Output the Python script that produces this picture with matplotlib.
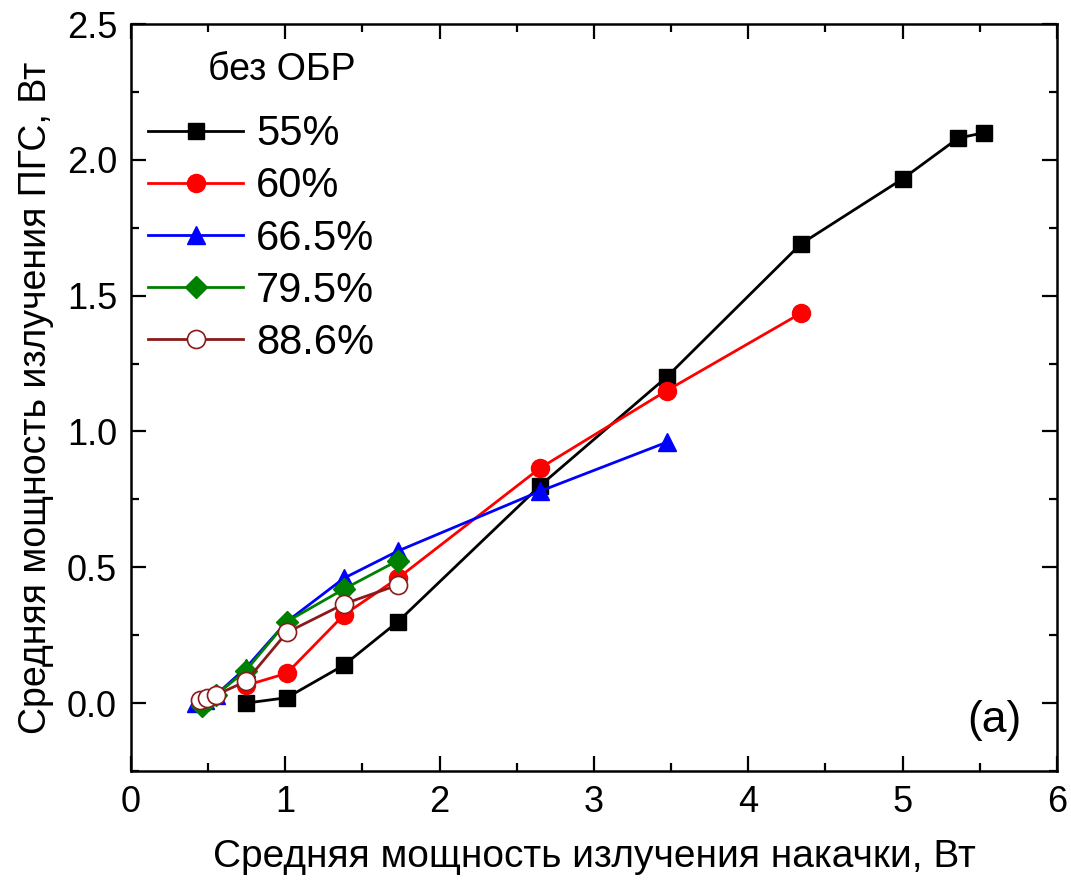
import matplotlib
matplotlib.use("Agg")
import matplotlib.pyplot as plt
from matplotlib.ticker import MultipleLocator

plt.rcParams['font.family'] = ['Liberation Sans', 'DejaVu Sans']

# pump power (W) vs. OPO output power (W), no feedback
x55 = [0.745, 1.01, 1.38, 1.73, 2.65, 3.47, 4.34, 5.00, 5.36, 5.53]
y55 = [0.00, 0.02, 0.14, 0.30, 0.80, 1.20, 1.69, 1.93, 2.08, 2.10]

x60 = [0.745, 1.01, 1.38, 1.73, 2.65, 3.47, 4.34]
y60 = [0.065, 0.11, 0.325, 0.46, 0.865, 1.15, 1.435]

x665 = [0.42, 0.48, 0.55, 0.745, 1.01, 1.38, 1.73, 2.65, 3.47]
y665 = [0.00, 0.01, 0.03, 0.13, 0.30, 0.46, 0.56, 0.78, 0.96]

x795 = [0.46, 0.50, 0.55, 0.745, 1.01, 1.38, 1.73]
y795 = [-0.01, 0.01, 0.03, 0.12, 0.30, 0.42, 0.525]

x886 = [0.45, 0.49, 0.55, 0.745, 1.01, 1.38, 1.73]
y886 = [0.01, 0.02, 0.03, 0.08, 0.26, 0.365, 0.435]

fig = plt.figure(figsize=(10.71, 8.89), dpi=100)
ax = fig.add_axes([0.1223, 0.1327, 0.8646, 0.8403])

lw = 2.0
ax.plot(x55, y55, color='black', marker='s', ms=12, lw=lw, label='55%')
ax.plot(x60, y60, color='red', marker='o', ms=13, lw=lw, label='60%')
ax.plot(x665, y665, color='blue', marker='^', ms=13.5, lw=lw, label='66.5%')
ax.plot(x795, y795, color='green', marker='D', ms=11, lw=lw, label='79.5%')
ax.plot(x886, y886, color='#8b1a1a', marker='o', ms=13, lw=lw,
        mfc='white', mec='#8b1a1a', mew=1.2, label='88.6%')

ax.set_xlim(0, 6)
ax.set_ylim(-0.25, 2.5)
ax.xaxis.set_major_locator(MultipleLocator(1))
ax.xaxis.set_minor_locator(MultipleLocator(0.5))
ax.yaxis.set_major_locator(MultipleLocator(0.5))
ax.yaxis.set_minor_locator(MultipleLocator(0.25))
ax.yaxis.set_major_formatter(matplotlib.ticker.FormatStrFormatter('%.1f'))
ax.tick_params(which='both', direction='in', top=True, right=True, width=1.6)
ax.tick_params(which='major', length=11, labelsize=26, pad=10)
ax.tick_params(which='minor', length=6)
for s in ax.spines.values():
    s.set_linewidth(1.8)

ax.set_xlabel('Средняя мощность излучения накачки, Вт', fontsize=28, labelpad=14)
ax.set_ylabel('Средняя мощность излучения ПГС, Вт', fontsize=27, labelpad=9)

ax.text(0.083, 0.938, 'без ОБР', transform=ax.transAxes, fontsize=27, va='center')
ax.text(0.962, 0.067, '(a)', transform=ax.transAxes, fontsize=32,
        ha='right', va='center')

ax.legend(loc='upper left', bbox_to_anchor=(0.018, 0.879), frameon=False,
          fontsize=30, borderpad=0, borderaxespad=0, handlelength=2.3,
          handletextpad=0.3, labelspacing=0.29)

fig.savefig('out.png', dpi=100)
